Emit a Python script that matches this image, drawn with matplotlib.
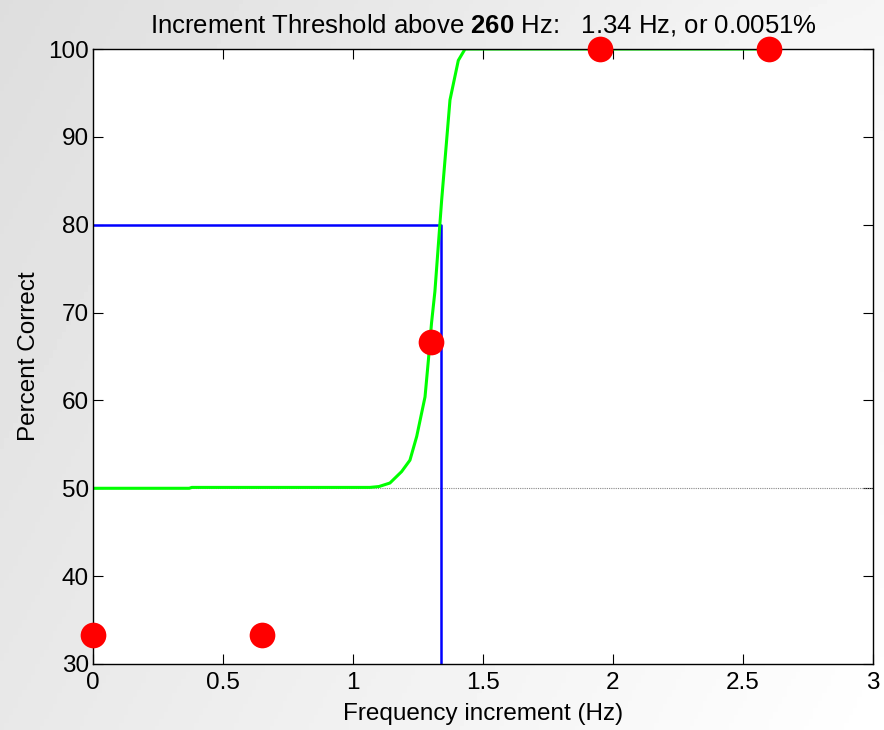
import matplotlib

matplotlib.use("Agg")

import matplotlib.pyplot as plt
import numpy as np

# observed proportions correct
freq_inc = [0.0, 0.65, 1.30, 1.95, 2.60]
pct_correct = [33.3, 33.3, 66.7, 100.0, 100.0]

# fitted psychometric curve
fit_x = [0.0, 0.37, 0.38, 1.065, 1.10, 1.142, 1.187, 1.219, 1.245, 1.277,
         1.29, 1.302, 1.315, 1.341, 1.373, 1.405, 1.431, 2.60]
fit_y = [50.0, 50.0, 50.1, 50.1, 50.2, 50.6, 51.9, 53.2, 55.9, 60.4,
         64.6, 68.8, 72.4, 82.8, 94.2, 98.7, 100.0, 100.0]

threshold = 1.34
criterion = 80
chance = 50
base_freq = 260

x_ticks = [0, 0.5, 1, 1.5, 2, 2.5, 3]
y_ticks = [30, 40, 50, 60, 70, 80, 90, 100]

plt.rcParams.update(
    {
        "font.family": ["Liberation Sans", "DejaVu Sans"],
        "font.size": 17.5,
        "mathtext.fontset": "custom",
        "mathtext.rm": "Liberation Sans",
        "mathtext.bf": "Liberation Sans:bold",
    }
)

fig = plt.figure(figsize=(8.84, 7.30), dpi=100)

# soft gray backdrop
bg = fig.add_axes([0, 0, 1, 1], zorder=-10)
gx, gy = np.meshgrid(np.linspace(0, 1, 200), np.linspace(0, 1, 200))
shade = 0.87 + 0.09 * gx + 0.04 * gy + 0.03 * np.exp(-((gx - 0.85) ** 2 + (gy - 0.2) ** 2) / 0.02)
bg.imshow(np.clip(shade, 0, 1), cmap="gray", vmin=0, vmax=1, aspect="auto",
          extent=[0, 1, 0, 1], origin="upper")
bg.axis("off")

ax = fig.add_axes([93 / 884, 1 - 664 / 730, 780 / 884, 615 / 730])
ax.set_facecolor("white")

ax.plot([0, 3], [chance, chance], color="#888888", linewidth=0.8, linestyle=(0, (1, 1)))
ax.plot([0, threshold, threshold], [criterion, criterion, 30], color="#0000ff", linewidth=1.8)
ax.plot(fit_x, fit_y, color="#00ff00", linewidth=2.2)
ax.plot(freq_inc, pct_correct, "o", color="#ff0000", markersize=18.5,
        markeredgewidth=0, clip_on=False, zorder=5)

ax.set_xlim(0, 3)
ax.set_ylim(30, 100)
ax.set_xticks(x_ticks)
ax.set_xticklabels(["0", "0.5", "1", "1.5", "2", "2.5", "3"])
ax.set_yticks(y_ticks)
ax.tick_params(direction="in", length=7, width=0.8, top=True, right=True, pad=3)
ax.tick_params(axis="x", pad=6)
for s in ax.spines.values():
    s.set_linewidth(1.0)

ax.set_xlabel("Frequency increment (Hz)", labelpad=6)
ax.set_ylabel("Percent Correct", labelpad=6)
ax.set_title(
    f"Increment Threshold above $\\mathbf{{{base_freq}}}$ Hz:   {threshold:.2f} Hz, or 0.0051%",
    fontsize=18.5, pad=12,
)

fig.savefig("out.png", dpi=100)
